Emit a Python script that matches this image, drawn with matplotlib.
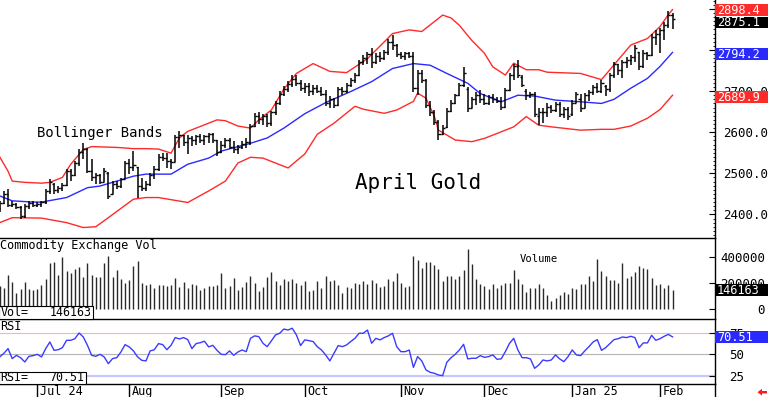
import numpy as np
import pandas as pd
import matplotlib
matplotlib.use("Agg")
import matplotlib.pyplot as plt
from matplotlib.patches import Rectangle, Polygon
from matplotlib.ticker import FixedLocator, MultipleLocator, FuncFormatter

plt.rcParams['font.family'] = ['DejaVu Sans Mono', 'DejaVu Sans']

# ---------------- data ----------------
holidays = pd.to_datetime(['2024-06-19', '2024-07-04', '2024-09-02', '2024-11-28',
                           '2024-12-25', '2025-01-01', '2025-01-09'])
dates = pd.bdate_range('2024-06-17', '2025-02-06')
dates = dates[~dates.isin(holidays)]

opens = [2415,2428,2450,2422,2425,2418,2395,2420,2428,2422,
         2425,2430,2458,2475,2460,2465,2472,2505,2495,2525,
         2552,2558,2505,2490,2495,2480,2500,2450,2475,2468,
         2485,2525,2515,2515,2470,2465,2475,2495,2510,2540,
         2538,2530,2528,2588,2592,2575,2585,2580,2590,2582,
         2590,2595,2580,2552,2570,2580,2565,2558,2565,2572,
         2575,2615,2640,2632,2640,2622,2648,2670,2694,2705,
         2718,2730,2720,2708,2712,2700,2708,2700,2692,2670,
         2680,2665,2705,2700,2715,2728,2740,2772,2780,2790,
         2770,2786,2780,2795,2820,2812,2790,2785,2792,2786,
         2708,2745,2728,2665,2648,2625,2595,2612,2652,2672,
         2690,2715,2705,2660,2680,2690,2680,2672,2685,2680,
         2675,2662,2702,2738,2762,2735,2700,2690,2692,2640,
         2648,2650,2662,2655,2668,2645,2656,2645,2672,2680,
         2660,2690,2698,2710,2700,2712,2705,2738,2765,2752,
         2770,2775,2782,2796,2760,2792,2788,2832,2840,2848,
         2862,2885]
highs = [2432,2457,2461,2433,2427,2420,2425,2433,2433,2429,
         2433,2462,2486,2477,2469,2477,2510,2510,2530,2558,
         2574,2562,2534,2501,2498,2514,2502,2481,2481,2489,
         2530,2534,2554,2516,2489,2481,2501,2518,2546,2550,
         2550,2534,2594,2602,2594,2594,2590,2594,2596,2594,
         2598,2598,2582,2578,2586,2586,2578,2570,2578,2586,
         2620,2646,2648,2645,2645,2652,2676,2700,2712,2725,
         2740,2738,2728,2719,2719,2715,2715,2711,2703,2687,
         2683,2711,2711,2719,2732,2744,2776,2788,2796,2804,
         2792,2796,2800,2828,2836,2814,2796,2796,2794,2796,
         2752,2752,2730,2675,2655,2630,2617,2658,2678,2694,
         2719,2759,2711,2686,2698,2702,2694,2690,2694,2686,
         2686,2707,2743,2767,2775,2738,2704,2698,2698,2660,
         2658,2670,2666,2674,2674,2662,2662,2678,2698,2694,
         2695,2703,2715,2719,2727,2715,2743,2772,2767,2776,
         2784,2788,2812,2796,2800,2796,2840,2848,2853,2869,
         2895,2890]
lows = [2405,2425,2417,2417,2413,2389,2392,2413,2417,2417,
        2417,2426,2450,2449,2453,2457,2470,2481,2493,2518,
        2534,2500,2481,2473,2473,2478,2437,2450,2461,2465,
        2485,2498,2506,2441,2457,2457,2469,2485,2506,2530,
        2514,2510,2528,2562,2566,2546,2566,2570,2574,2570,
        2574,2574,2542,2550,2562,2560,2550,2546,2558,2562,
        2570,2612,2620,2618,2612,2615,2642,2665,2688,2698,
        2710,2712,2700,2695,2687,2691,2695,2687,2663,2659,
        2659,2663,2691,2695,2711,2719,2736,2763,2767,2756,
        2767,2772,2776,2788,2800,2784,2778,2776,2780,2699,
        2691,2720,2659,2639,2617,2581,2593,2610,2650,2668,
        2688,2711,2650,2658,2666,2670,2666,2666,2670,2670,
        2654,2660,2700,2727,2731,2711,2678,2684,2638,2617,
        2622,2638,2646,2650,2638,2634,2630,2640,2670,2650,
        2659,2675,2691,2695,2695,2687,2699,2731,2740,2731,
        2756,2764,2772,2752,2756,2776,2785,2812,2792,2824,
        2853,2850]
closes = [2428,2450,2422,2425,2418,2395,2420,2428,2422,2425,
          2430,2458,2480,2460,2465,2472,2505,2495,2525,2552,
          2560,2505,2490,2495,2480,2505,2445,2475,2468,2485,
          2525,2515,2520,2470,2465,2475,2495,2510,2540,2538,
          2530,2528,2588,2592,2575,2585,2580,2590,2582,2590,
          2595,2580,2552,2570,2580,2565,2558,2565,2572,2575,
          2615,2640,2632,2640,2622,2648,2670,2694,2705,2718,
          2730,2720,2708,2712,2700,2708,2700,2692,2670,2680,
          2665,2705,2700,2715,2728,2740,2772,2780,2790,2770,
          2786,2780,2795,2820,2812,2790,2785,2792,2786,2708,
          2745,2728,2665,2648,2625,2595,2610,2652,2672,2690,
          2715,2745,2658,2680,2690,2680,2672,2685,2680,2675,
          2662,2702,2738,2762,2738,2715,2690,2692,2645,2648,
          2650,2662,2655,2668,2645,2656,2640,2672,2692,2660,
          2690,2698,2710,2700,2720,2705,2738,2765,2752,2770,
          2775,2782,2805,2760,2792,2788,2832,2840,2848,2862,
          2885,2875.1]

# volume in thousands of contracts
volume_k = [180,166,264,206,128,158,206,158,151,158,
            189,234,354,366,264,407,294,279,309,324,
            251,354,264,249,251,354,415,251,302,234,
            204,226,332,372,204,189,196,166,189,189,
            176,189,241,171,209,166,196,189,151,166,
            176,176,189,282,166,176,241,151,174,209,
            253,204,141,171,246,287,221,186,236,216,
            236,204,184,216,136,148,216,166,254,221,
            229,184,128,171,166,199,196,221,191,229,
            204,171,179,234,216,279,204,171,179,413,
            380,317,362,362,342,309,221,254,254,236,
            259,299,463,347,236,196,179,153,191,166,
            184,204,204,299,236,191,133,161,166,196,
            161,111,60,86,108,133,116,166,153,196,
            191,254,219,390,297,257,226,226,201,360,
            239,257,287,332,319,307,244,189,196,164,
            189,146.163]

rsi = [46.9,51.2,56.7,44.9,48.8,46.0,41.0,47.6,48.4,50.0,
       46.9,56.7,64.5,54.7,55.4,57.8,66.5,66.5,68.4,75.1,
       70.4,60.6,48.8,47.6,50.0,46.9,39.0,44.9,46.0,52.7,
       61.4,58.7,54.0,46.9,42.9,42.2,54.0,55.4,62.6,61.4,
       55.4,60.6,69.7,68.1,69.7,67.3,56.7,62.6,63.7,65.4,
       58.7,60.6,54.7,50.0,49.6,54.0,48.8,52.7,55.1,53.1,
       68.8,71.7,70.8,63.0,59.0,65.7,72.8,74.8,79.8,78.6,
       80.7,72.8,60.3,67.0,66.1,65.0,59.0,55.1,49.3,42.2,
       51.2,60.3,59.0,61.0,65.0,68.8,74.8,74.8,78.6,63.0,
       68.8,67.0,69.7,71.7,74.8,59.0,53.1,53.1,55.0,34.6,
       47.3,42.2,31.6,28.8,27.6,25.6,24.9,40.6,46.0,50.0,
       55.1,61.8,44.6,45.3,45.3,48.4,46.4,47.3,49.3,44.1,
       44.6,53.1,63.0,68.8,55.1,46.0,46.0,44.6,33.5,37.4,
       43.3,42.2,43.3,49.3,44.6,41.3,47.3,55.1,49.3,48.4,
       54.0,59.0,64.5,67.3,54.7,57.8,62.6,67.3,68.4,70.4,
       69.7,71.2,69.7,57.8,63.4,63.4,72.4,66.5,68.4,71.2,
       73.5,70.51]

upper_idx = [0,2,3,6,10,12,15,17,20,22,28,32,35,38,41,43,45,50,52,54,
             57,60,62,65,68,71,75,79,83,88,94,98,101,104,106,108,110,113,116,118,
             121,123,126,129,131,139,144,147,149,151,155,158,160,161]
upper_band = [2540,2505,2481,2478,2476,2478,2490,2522,2558,2565,2563,2560,2560,2559,2549,2586,2602,2622,2630,2628,
              2615,2610,2630,2654,2705,2743,2767,2748,2745,2779,2840,2849,2845,2869,2885,2878,2860,2823,2792,2759,
              2739,2768,2752,2752,2746,2743,2728,2764,2788,2812,2828,2857,2886,2898.4]
mid_idx = [0,3,8,10,16,21,24,28,32,35,41,45,50,53,60,64,68,73,78,84,
           89,94,99,103,107,112,115,120,124,128,133,139,144,147,151,155,158,161]
mid_band = [2445,2433,2430,2430,2441,2465,2469,2481,2493,2498,2498,2522,2537,2554,2573,2586,2610,2645,2672,2699,
            2723,2755,2767,2763,2743,2719,2694,2674,2690,2688,2678,2674,2670,2680,2707,2731,2760,2794.2]
lower_idx = [0,2,3,10,16,20,23,26,32,35,38,45,50,54,57,60,63,66,69,73,
             76,80,85,87,92,95,99,100,102,104,105,109,113,116,120,123,126,129,132,139,
             144,147,151,155,158,161]
lower_band = [2380,2388,2392,2391,2380,2368,2370,2392,2437,2441,2441,2429,2457,2481,2525,2539,2537,2525,2513,2547,
              2595,2622,2663,2656,2646,2654,2675,2695,2683,2639,2605,2581,2577,2585,2601,2613,2638,2617,2613,2605,
              2607,2607,2615,2634,2655,2689.9]

last_close = 2875.1
last_upper = 2898.4
last_mid = 2794.2
last_lower = 2689.9
last_vol = 146163
last_rsi = 70.51

# ---------------- layout ----------------
W, H = 768, 397
fig = plt.figure(figsize=(W / 100, H / 100), dpi=100)
fig.patch.set_facecolor('white')
RX = 714.5


def rect(x0, y0, x1, y1):
    return [x0 / W, 1 - y1 / H, (x1 - x0) / W, (y1 - y0) / H]


ax_p = fig.add_axes(rect(0, 0, RX, 237.5))
ax_v = fig.add_axes(rect(0, 237.5, RX, 319))
ax_r = fig.add_axes(rect(0, 319, RX, 384))
ax_d = fig.add_axes(rect(0, 384, RX, 397))

x = np.arange(len(dates))
xlim = (0.3 / 4.179, (RX + 0.3) / 4.179)
for ax in (ax_p, ax_v, ax_r, ax_d):
    ax.set_xlim(*xlim)
    for s in ('left', 'bottom'):
        ax.spines[s].set_visible(False)
    ax.spines['right'].set_linewidth(1.0)
    ax.spines['top'].set_linewidth(1.0)
    ax.tick_params(axis='x', which='both', bottom=False, top=False,
                   labelbottom=False)
    ax.yaxis.tick_right()
ax_p.spines['top'].set_visible(False)

# ---------------- price panel ----------------
RED = '#ff2a2a'
BLUE = '#2a2aff'
ax_p.plot(upper_idx, upper_band, color=RED, lw=1.0, zorder=2)
ax_p.plot(lower_idx, lower_band, color=RED, lw=1.0, zorder=2)
ax_p.plot(mid_idx, mid_band, color=BLUE, lw=1.0, zorder=2)
ax_p.vlines(x, lows, highs, color='black', lw=1.1, zorder=3)
ax_p.hlines(opens, x - 0.5, x, color='black', lw=1.0, zorder=3)
ax_p.hlines(closes, x, x + 0.5, color='black', lw=1.0, zorder=3)
ax_p.set_ylim(2343.8, 2921.7)
ax_p.yaxis.set_major_locator(FixedLocator([2400, 2500, 2600, 2700, 2800, 2900]))
ax_p.yaxis.set_minor_locator(MultipleLocator(10))
# 2800/2900 labels sit fully under the value boxes, as in the reference
ax_p.yaxis.set_major_formatter(
    FuncFormatter(lambda v, p: f"{v:.1f}" if v < 2750 else ""))
ax_p.tick_params(axis='y', which='major', direction='in', length=4, width=0.8,
                 pad=6, labelsize=9)
ax_p.tick_params(axis='y', which='minor', direction='in', length=1.5, width=0.6)

ax_p.text(37 / RX, 1 - 133.5 / 237.5, 'Bollinger Bands', transform=ax_p.transAxes,
          fontsize=10, ha='left', va='center')
ax_p.text(355 / RX, 1 - 183 / 237.5, 'April Gold', transform=ax_p.transAxes,
          fontsize=15, ha='left', va='center')

# ---------------- volume panel ----------------
ax_v.vlines(x, 0, np.array(volume_k) * 1000, color='#2a2a2a', lw=1.0)
ax_v.set_ylim(-77700, 555300)
ax_v.yaxis.set_major_locator(FixedLocator([0, 200000, 400000]))
ax_v.yaxis.set_major_formatter(FuncFormatter(lambda v, p: f"{int(v)}"))
ax_v.tick_params(axis='y', which='major', direction='in', length=4, width=0.8,
                 pad=36.4, labelsize=9)
for lab in ax_v.get_yticklabels():
    lab.set_horizontalalignment('right')
ax_v.text(0.5 / RX, 1 - (246 - 237.5) / 81.5, 'Commodity Exchange Vol',
          transform=ax_v.transAxes, fontsize=8.6, ha='left', va='center')
ax_v.text(520 / RX, 1 - (259 - 237.5) / 81.5, 'Volume',
          transform=ax_v.transAxes, fontsize=7.6, ha='left', va='center')

# ---------------- RSI panel ----------------
ax_r.axhline(75, color='#ffb0b0', lw=0.8, zorder=1)
ax_r.axhline(50, color='#b4b4b4', lw=0.8, zorder=1)
ax_r.axhline(25, color='#c8c8ff', lw=1.6, zorder=1)
ax_r.plot(x, rsi, color='#3b3bff', lw=1.0, zorder=3)
ax_r.set_ylim(15.0, 91.6)
ax_r.yaxis.set_major_locator(FixedLocator([25, 50, 75]))
ax_r.tick_params(axis='y', which='major', direction='in', length=4, width=0.8,
                 pad=10.4, labelsize=9)
ax_r.text(0.5 / RX, 1 - (327 - 319) / 65, 'RSI', transform=ax_r.transAxes,
          fontsize=8.6, ha='left', va='center')

# ---------------- date strip ----------------
ax_d.set_ylim(0, 1)
ax_d.set_yticks([])
month_first = [i for i in range(1, len(dates)) if dates[i].month != dates[i - 1].month]
for i in month_first:
    d = dates[i]
    if d.month == 1 or d.month == 7:
        lab = d.strftime('%b %y')
    else:
        lab = d.strftime('%b')
    ax_d.vlines(i, 0, 1, color='black', lw=1.0)
    ax_d.text(i + 0.55, 0.42, lab, fontsize=8.5, ha='left', va='center')

# ---------------- label boxes ----------------
def ypix(ax, value):
    yd = ax.transData.transform((0, value))[1]
    return H - yd


def right_box(ax, value, text, fc, dy=1.5, h=11.5):
    yc = ypix(ax, value) + dy
    fig.add_artist(Rectangle((RX / W, 1 - (yc + h / 2) / H), (W - RX) / W, h / H,
                             transform=fig.transFigure, fc=fc, ec='none', zorder=5))
    fig.text(717 / W, 1 - (yc + 0.3) / H, text, color='white', fontsize=8.6,
             ha='left', va='center', zorder=6)


right_box(ax_p, last_upper, f"{last_upper:.1f}", RED, dy=0.5)
right_box(ax_p, last_close, f"{last_close:.1f}", 'black', dy=3.5)
right_box(ax_p, last_mid, f"{last_mid:.1f}", BLUE)
right_box(ax_p, last_lower, f"{last_lower:.1f}", RED)
right_box(ax_v, last_vol, f"{last_vol}", 'black', dy=0.0)
right_box(ax_r, last_rsi, f"{last_rsi:.2f}", BLUE, dy=0.0)


def left_box(y0, y1, x1, name, val):
    fig.add_artist(Rectangle((-1 / W, 1 - y1 / H), (x1 + 1) / W, (y1 - y0) / H,
                             transform=fig.transFigure, fc='white', ec='black',
                             lw=0.8, zorder=5))
    yc = (y0 + y1) / 2
    fig.text(0.5 / W, 1 - yc / H, name, fontsize=8.4, ha='left', va='center', zorder=6)
    fig.text((x1 - 1.5) / W, 1 - yc / H, val, fontsize=8.4, ha='right', va='center',
             zorder=6)


left_box(306, 319, 92.7, 'Vol=', f"{last_vol}")
left_box(371.5, 384, 85.5, 'RSI=', f"{last_rsi:.2f}")

# red arrow bottom-right
pts = [(757.5, 392.2), (762, 388.8), (762, 391.0), (767, 391.0), (767, 393.4),
       (762, 393.4), (762, 395.6)]
fig.add_artist(Polygon([(px / W, 1 - py / H) for px, py in pts], closed=True,
                       transform=fig.transFigure, fc='#ff1a1a', ec='none', zorder=5))

fig.savefig('out.png', dpi=100, facecolor='white')
